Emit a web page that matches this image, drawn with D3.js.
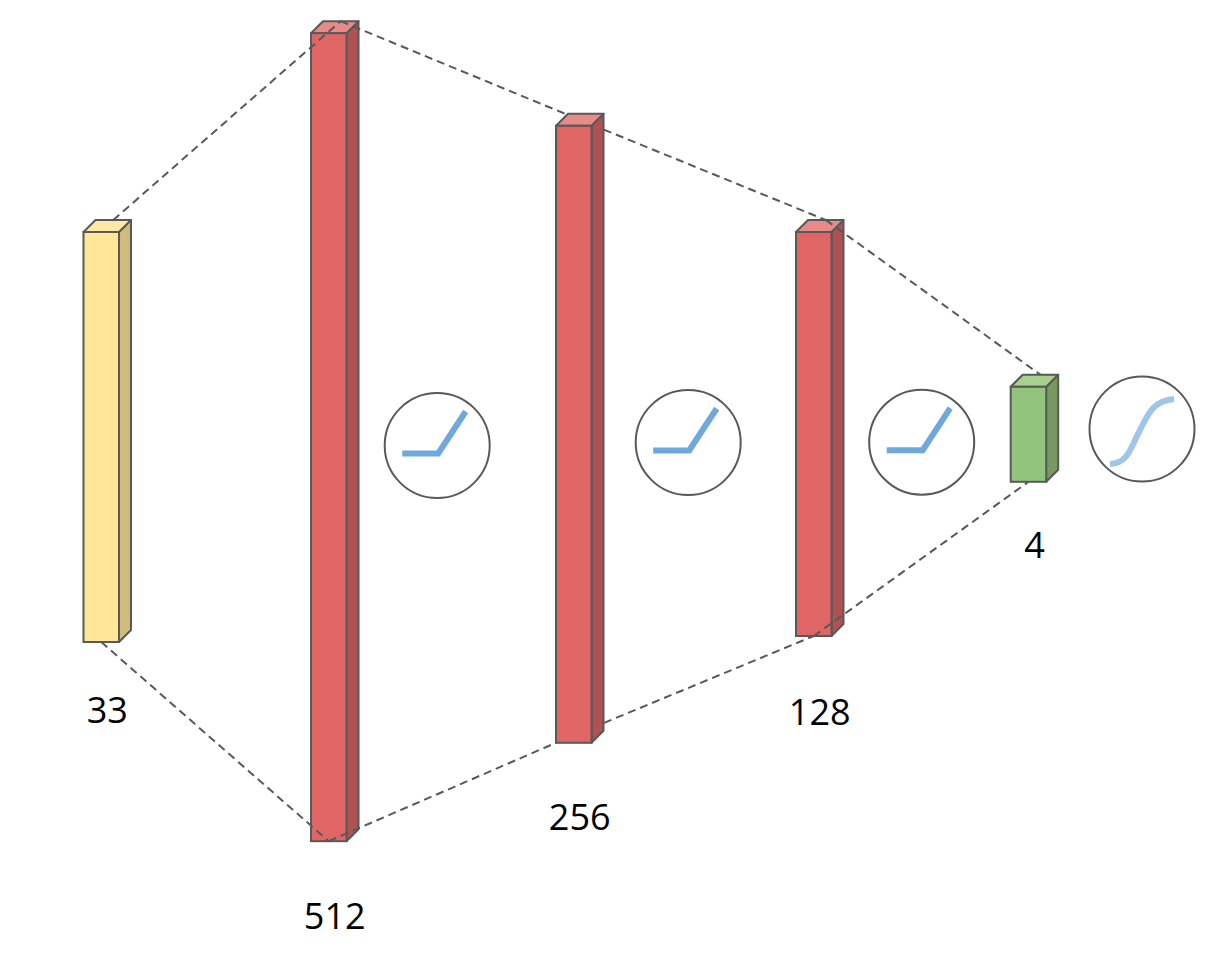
<!DOCTYPE html>
<html>
<head>
<meta charset="utf-8">
<script src="https://cdn.jsdelivr.net/npm/d3@7"></script>
<style>
  html, body { margin: 0; padding: 0; background: #ffffff; }
  svg { display: block; }
</style>
</head>
<body>
<svg id="chart" width="1230" height="971"></svg>
<script>
// ---- data ----
const layerNames  = ["input", "dense1", "dense2", "dense3", "output"];
const layerUnits  = ["33", "512", "256", "128", "4"];
const layerKinds  = ["input", "hidden", "hidden", "hidden", "output"];
const layerLength = [410, 808, 617, 404, 95];     // drawn bar length (relative units)
const activationLayers = ["dense1", "dense2", "dense3", "output"];
const activationTypes  = ["relu", "relu", "relu", "sigmoid"];

// ---- layout / style ----
const W = 1230, H = 971;
const barW = 35.5, depth = 12;
const hiddenLayer = "dense2";           // this bar sits in front of the connector lines
const labelDrop = [81, 88, 87, 89, 76];
const stroke = "#595959";

const colors = {
  input:  { front: "#ffe699", side: "#cfbb7c", top: "#ffe9a6" },
  hidden: { front: "#e06666", side: "#b05252", top: "#e98a8a" },
  output: { front: "#93c47d", side: "#76995f", top: "#a9d18e" }
};

const svg = d3.select("#chart");

const xScale = d3.scaleOrdinal().domain(layerNames).range([83.5, 311, 556, 796, 1010.7]);
const midScale = d3.scaleOrdinal().domain(layerNames).range([437, 437.2, 434.3, 434, 434.3]);
const hScale = d3.scaleLinear().domain([0, 1000]).range([0, 1000]);
const actX = d3.scaleOrdinal().domain(activationLayers).range([437.2, 688.2, 921.7, 1142]);
const actY = d3.scaleOrdinal().domain(activationLayers).range([445.5, 442.5, 442.2, 429]);

const layers = layerNames.map((name, i) => {
  const h = hScale(layerLength[i]);
  const x = xScale(name);
  const mid = midScale(name);
  const top = mid - h / 2, bottom = mid + h / 2;
  return { name, units: layerUnits[i], kind: layerKinds[i], x, top, bottom, h, i };
});

function topAnchor(l) {
  if (l.name === hiddenLayer) return [l.x + barW / 2 + depth / 2, l.top - depth / 2];
  return [l.x + depth + barW / 2, l.top - depth];
}
function bottomAnchor(l) {
  if (l.name === hiddenLayer) return [l.x, l.bottom];
  return [l.x + barW / 2, l.bottom];
}

// ---- bars ----
const gBars = svg.append("g");
const bar = gBars.selectAll("g.bar").data(layers).join("g")
  .attr("class", "bar")
  .attr("id", d => "bar-" + d.name);

bar.append("polygon")
  .attr("points", d => [
    [d.x + barW, d.top], [d.x + barW + depth, d.top - depth],
    [d.x + barW + depth, d.bottom - depth], [d.x + barW, d.bottom]].map(p => p.join(",")).join(" "))
  .attr("fill", d => colors[d.kind].side)
  .attr("stroke", stroke).attr("stroke-width", 2).attr("stroke-linejoin", "round");

bar.append("polygon")
  .attr("points", d => [
    [d.x, d.top], [d.x + depth, d.top - depth],
    [d.x + barW + depth, d.top - depth], [d.x + barW, d.top]].map(p => p.join(",")).join(" "))
  .attr("fill", d => colors[d.kind].top)
  .attr("stroke", stroke).attr("stroke-width", 2).attr("stroke-linejoin", "round");

bar.append("rect")
  .attr("x", d => d.x).attr("y", d => d.top)
  .attr("width", barW).attr("height", d => d.h)
  .attr("fill", d => colors[d.kind].front)
  .attr("stroke", stroke).attr("stroke-width", 2);

// ---- dashed connectors ----
const pairs = d3.pairs(layers);
const gLines = svg.append("g")
  .attr("stroke", stroke).attr("stroke-width", 2)
  .attr("stroke-dasharray", "8,5").attr("fill", "none");

gLines.selectAll("line.top").data(pairs).join("line")
  .attr("class", "top")
  .attr("x1", d => topAnchor(d[0])[0]).attr("y1", d => topAnchor(d[0])[1])
  .attr("x2", d => topAnchor(d[1])[0]).attr("y2", d => topAnchor(d[1])[1]);

gLines.selectAll("line.bottom").data(pairs).join("line")
  .attr("class", "bottom")
  .attr("x1", d => bottomAnchor(d[0])[0]).attr("y1", d => bottomAnchor(d[0])[1])
  .attr("x2", d => bottomAnchor(d[1])[0]).attr("y2", d => bottomAnchor(d[1])[1]);

// bring the middle bar in front of the lines
svg.append(() => d3.select("#bar-" + hiddenLayer).node());

// ---- unit labels ----
svg.append("g").selectAll("text").data(layers).join("text")
  .attr("x", d => d.x + (barW + depth) / 2)
  .attr("y", d => d.bottom + labelDrop[d.i])
  .attr("text-anchor", "middle")
  .attr("font-family", "'Open Sans', 'DejaVu Sans', sans-serif")
  .attr("font-size", 36)
  .attr("fill", "#000")
  .text(d => d.units);

// ---- activation icons ----
const acts = activationLayers.map((name, i) => ({ name, type: activationTypes[i] }));
const gAct = svg.append("g").selectAll("g").data(acts).join("g")
  .attr("transform", d => `translate(${actX(d.name)},${actY(d.name)})`);

gAct.append("circle")
  .attr("r", 52.5)
  .attr("fill", "#ffffff")
  .attr("stroke", stroke).attr("stroke-width", 2);

const reluLine = d3.line();
gAct.filter(d => d.type === "relu").append("path")
  .attr("d", reluLine([[-35, 8], [1, 8], [28.5, -34]]))
  .attr("fill", "none").attr("stroke", "#6fa8dc").attr("stroke-width", 6)
  .attr("stroke-linejoin", "miter");

gAct.filter(d => d.type === "sigmoid").append("path")
  .attr("d", "M-32,35 C-14,34 -12,20 -3,3 C6,-14 10,-28 32,-30")
  .attr("fill", "none").attr("stroke", "#9fc5e8").attr("stroke-width", 6);
</script>
</body>
</html>
